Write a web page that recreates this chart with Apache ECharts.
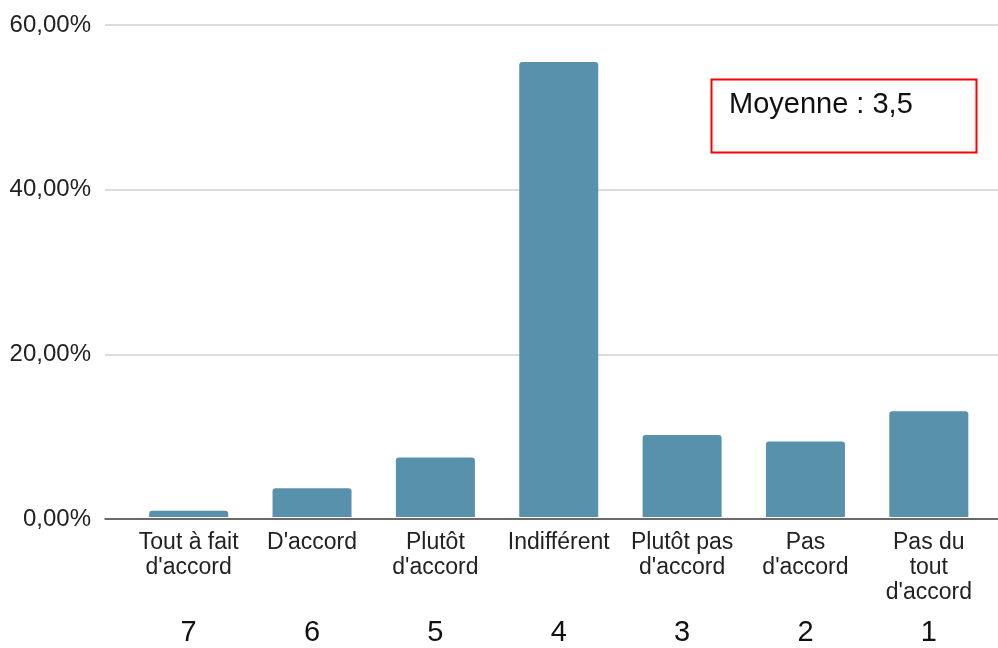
<!DOCTYPE html>
<html>
<head>
<meta charset="utf-8">
<script src="https://cdn.jsdelivr.net/npm/echarts@6/dist/echarts.min.js"></script>
<style>
  html, body { margin: 0; padding: 0; background: #fff; }
  #main { width: 998px; height: 648px; }
</style>
</head>
<body>
<div id="main"></div>
<script>
var categories = ["Tout à fait\nd'accord", "D'accord", "Plutôt\nd'accord", 'Indifférent', "Plutôt pas\nd'accord", "Pas\nd'accord", "Pas du\ntout\nd'accord"];
var scores = ['7', '6', '5', '4', '3', '2', '1'];
var values = [0.0077, 0.0352, 0.0725, 0.555, 0.100, 0.092, 0.129];
var meanLabel = 'Moyenne : 3,5';

var font = 'Liberation Sans';
var chart = echarts.init(document.getElementById('main'), null, { renderer: 'canvas' });

function pct(v) {
  return (v * 100).toFixed(2).replace('.', ',') + '%';
}

var option = {
  backgroundColor: '#fff',
  animation: false,
  textStyle: { fontFamily: font },
  grid: [
    // grid lines + y labels, full width
    { left: 105, right: 0, top: 25, bottom: 129 },
    // bars
    { left: 127, right: 7.5, top: 25, bottom: 129 }
  ],
  xAxis: [
    {
      gridIndex: 0,
      type: 'category',
      data: [''],
      axisLine: { show: true, lineStyle: { color: '#444', width: 1.5 } },
      axisTick: { show: false },
      axisLabel: { show: false }
    },
    {
      gridIndex: 1,
      type: 'category',
      data: categories,
      axisLine: { show: false },
      axisTick: { show: false },
      axisLabel: {
        interval: 0,
        margin: 13,
        fontSize: 23,
        lineHeight: 25,
        color: '#222',
        fontFamily: font
      }
    },
    {
      gridIndex: 1,
      type: 'category',
      position: 'bottom',
      offset: 93,
      data: scores,
      axisLine: { show: false },
      axisTick: { show: false },
      axisLabel: {
        interval: 0,
        margin: 8,
        fontSize: 29,
        lineHeight: 30,
        color: '#111',
        fontFamily: font
      }
    }
  ],
  yAxis: [
    {
      gridIndex: 0,
      type: 'value',
      min: 0,
      max: 0.6,
      interval: 0.2,
      axisLine: { show: false },
      axisTick: { show: false },
      splitLine: { lineStyle: { color: '#d0d0d0', width: 1.5 } },
      axisLabel: {
        margin: 14,
        fontSize: 24,
        color: '#222',
        fontFamily: font,
        padding: [5, 0, 0, 0],
        formatter: pct
      }
    },
    {
      gridIndex: 1,
      type: 'value',
      min: 0,
      max: 0.6,
      show: false
    }
  ],
  series: [
    {
      type: 'bar',
      xAxisIndex: 1,
      yAxisIndex: 1,
      data: values,
      barWidth: 79,
      itemStyle: { color: '#5891ac', borderRadius: [3, 3, 0, 0] }
    }
  ],
  graphic: [
    {
      type: 'rect',
      left: 709,
      top: 77,
      shape: { width: 265, height: 73 },
      style: { fill: 'none', stroke: '#ff0000', lineWidth: 2 }
    },
    {
      type: 'text',
      left: 729,
      top: 90,
      style: { text: meanLabel, fontSize: 29, fontFamily: font, fill: '#111' }
    }
  ]
};

chart.setOption(option);
</script>
</body>
</html>
